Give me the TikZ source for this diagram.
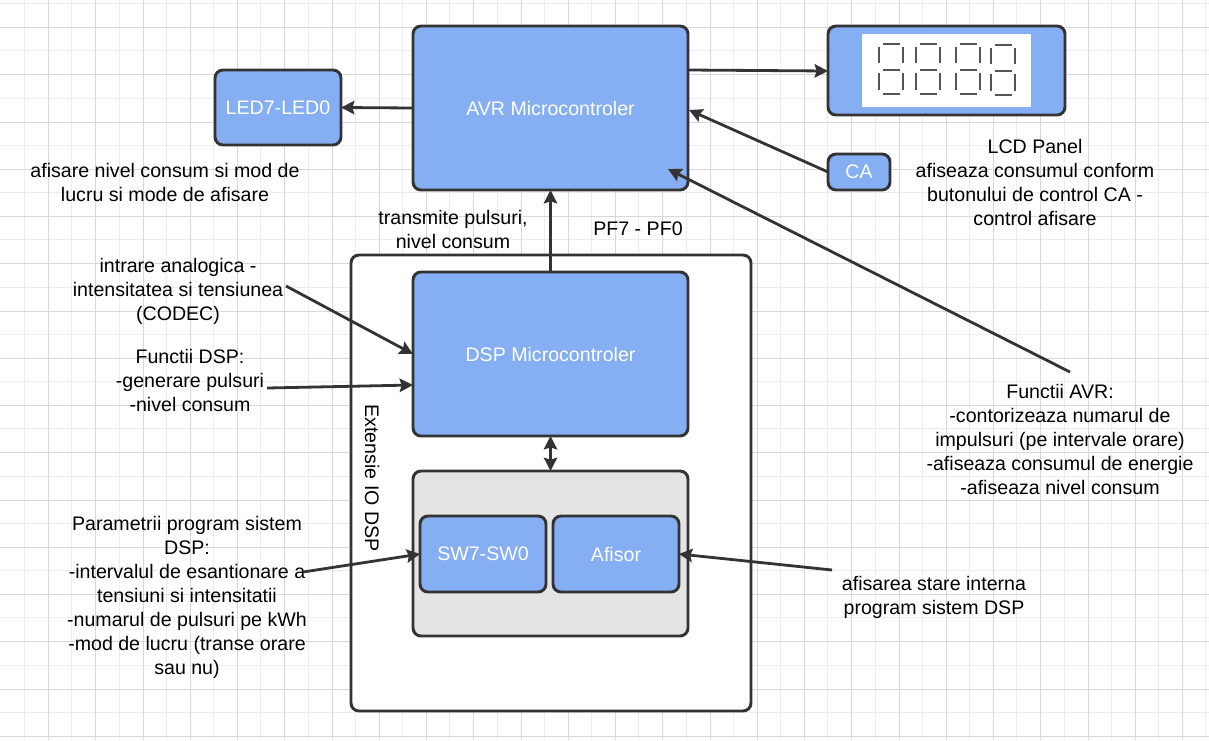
\documentclass[tikz,border=0pt]{standalone}
\usepackage{fontspec}
\setmainfont{Liberation Sans}
\usetikzlibrary{arrows.meta, calc}
\definecolor{blockblue}{HTML}{85AEF3}
\definecolor{blockgrey}{HTML}{E4E4E4}
\definecolor{linedark}{HTML}{333333}
\definecolor{gridmajor}{HTML}{D8D8D8}
\definecolor{gridminor}{HTML}{EDEDED}
\definecolor{segcolor}{HTML}{555555}
% One block: name, centre, width, height, label (sizes in reference pixels)
\newcommand{\blocknode}[5]{%
    \node[block_style, minimum width=#3*0.75pt, minimum height=#4*0.75pt] (#1) at #2 {#5};
}
% One seven segment digit, with its top left corner at the given point
\newcommand{\segdigit}[2]{%
    \begin{scope}[shift={(#1,#2)}]
        \draw[seg_style] (4,0) -- (21,0);
        \draw[seg_style] (0,3) -- (0,19);
        \draw[seg_style] (24,3) -- (24,19);
        \draw[seg_style] (4,26) -- (21,26);
        \draw[seg_style] (0,29) -- (0,46);
        \draw[seg_style] (24,29) -- (24,46);
        \draw[seg_style] (4,50) -- (21,50);
    \end{scope}
}
\begin{document}
\begin{tikzpicture}[
        x=0.75pt, y=-0.75pt,
        >={Stealth[length=10pt,width=10pt,inset=1.5pt]},
        arrow_style/.style={->, line width=2.1pt, draw=linedark},
        both_style/.style={<->, line width=2.1pt, draw=linedark},
        block_style/.style={draw=linedark, fill=blockblue, line width=2.2pt, rounded corners=6pt,
            text=white, font=\fontsize{14.7}{18}\selectfont, inner sep=0pt, outer sep=0pt},
        note_style/.style={align=center, text=black, font=\fontsize{14.7}{18}\selectfont, inner sep=0pt},
        seg_style/.style={draw=segcolor, line width=2.2pt}
    ]
    \useasboundingbox (0,0) rectangle (1209,740);

    % =========================================================================
    % 1. BACKGROUND GRID
    % =========================================================================
    \foreach \gx in {0,...,25} {
        \draw[gridminor, line width=0.75pt] ({round(24+\gx*47.25)+0.5},0) -- ({round(24+\gx*47.25)+0.5},740);
    }
    \foreach \gy in {0,...,15} {
        \draw[gridminor, line width=0.75pt] (0,{round(3+\gy*47.25)+0.5}) -- (1209,{round(3+\gy*47.25)+0.5});
    }
    \foreach \gx in {0,...,24} {
        \draw[gridmajor, line width=0.75pt] ({round(48+\gx*47.25)+0.5},0) -- ({round(48+\gx*47.25)+0.5},740);
    }
    \foreach \gy in {0,...,15} {
        \draw[gridmajor, line width=0.75pt] (0,{round(27+\gy*47.25)+0.5}) -- (1209,{round(27+\gy*47.25)+0.5});
    }

    % =========================================================================
    % 2. BLOCKS
    % =========================================================================
    \node[block_style, fill=white, minimum width=400*0.75pt, minimum height=456*0.75pt] (extBox) at (551,483) {};
    \blocknode{avrBlock}{(550.5,108)}{275}{164}{AVR Microcontroler}
    \blocknode{ledBlock}{(278,107.5)}{126}{75}{LED7-LED0}
    \blocknode{lcdBlock}{(946.5,70.5)}{237}{89}{}
    \blocknode{caBlock}{(859,172)}{62}{36}{CA}
    \blocknode{dspBlock}{(550.5,354)}{275}{164}{DSP Microcontroler}
    \node[block_style, fill=blockgrey, minimum width=275*0.75pt, minimum height=165*0.75pt] (ioBlock) at (550.5,553.5) {};
    \blocknode{swBlock}{(483,554)}{126}{76}{SW7-SW0}
    \blocknode{afisBlock}{(616,554)}{126}{76}{Afisor}

    % LCD digits
    \node[fill=white, minimum width=169*0.75pt, minimum height=73*0.75pt, inner sep=0pt] (lcdScreen) at (946.5,70.5) {};
    \segdigit{879}{44}
    \segdigit{916}{44}
    \segdigit{956}{44}
    \segdigit{991}{45}

    % =========================================================================
    % 3. NOTES
    % =========================================================================
    \node[note_style] (ledNote) at (165,182) {afisare nivel consum si mod de\\lucru si mode de afisare};
    \node[note_style] (lcdNote) at (1035,182) {LCD Panel\\afiseaza consumul conform\\butonului de control CA -\\control afisare};
    \node[note_style] (pulseNote) at (453,229) {transmite pulsuri,\\nivel consum};
    \node[note_style] (pfNote) at (638,229) {PF7 - PF0};
    \node[note_style] (analogNote) at (178,291) {intrare analogica -\\intensitatea si tensiunea\\(CODEC)};
    \node[note_style] (dspNote) at (190,380) {Functii DSP:\\-generare pulsuri\\-nivel consum};
    \node[note_style] (avrNote) at (1060,439) {Functii AVR:\\-contorizeaza numarul de\\impulsuri (pe intervale orare)\\-afiseaza consumul de energie\\-afiseaza nivel consum};
    \node[note_style] (paramNote) at (187,597) {Parametrii program sistem\\DSP:\\-intervalul de esantionare a\\tensiuni si intensitatii\\-numarul de pulsuri pe kWh\\-mod de lucru (transe orare\\sau nu)};
    \node[note_style] (stateNote) at (934,597) {afisarea stare interna\\program sistem DSP};
    \node[note_style, rotate=-90] (extNote) at (372,478) {Extensie IO DSP};

    % =========================================================================
    % 4. CONNECTOR END POINTS
    % =========================================================================
    \coordinate (avrTipCa) at (689,110);
    \coordinate (avrTipFn) at (668,169);
    \coordinate (avrOutLcd) at (688,70);
    \coordinate (lcdIn) at (828,71);
    \coordinate (caOut) at (828,172);
    \coordinate (fnStart) at (1070,372);
    \coordinate (analogStart) at (286,286);
    \coordinate (dspTipAnalog) at (413,354);
    \coordinate (dspStart) at (267,388);
    \coordinate (dspTipFn) at (413,385);
    \coordinate (paramStart) at (303,572);
    \coordinate (stateStart) at (832,570);

    % =========================================================================
    % 5. CONNECTORS
    % =========================================================================
    \draw[arrow_style] (avrBlock.west) -- (ledBlock.east);
    \draw[arrow_style] (avrOutLcd) -- (lcdIn);
    \draw[arrow_style] (caOut) -- (avrTipCa);
    \draw[arrow_style] (fnStart) -- (avrTipFn);
    \draw[arrow_style] (dspBlock.north) -- (avrBlock.south);
    \draw[both_style] (dspBlock.south) -- (ioBlock.north);
    \draw[arrow_style] (analogStart) -- (dspTipAnalog);
    \draw[arrow_style] (dspStart) -- (dspTipFn);
    \draw[arrow_style] (paramStart) -- (swBlock.west);
    \draw[arrow_style] (stateStart) -- (afisBlock.east);

\end{tikzpicture}
\end{document}
